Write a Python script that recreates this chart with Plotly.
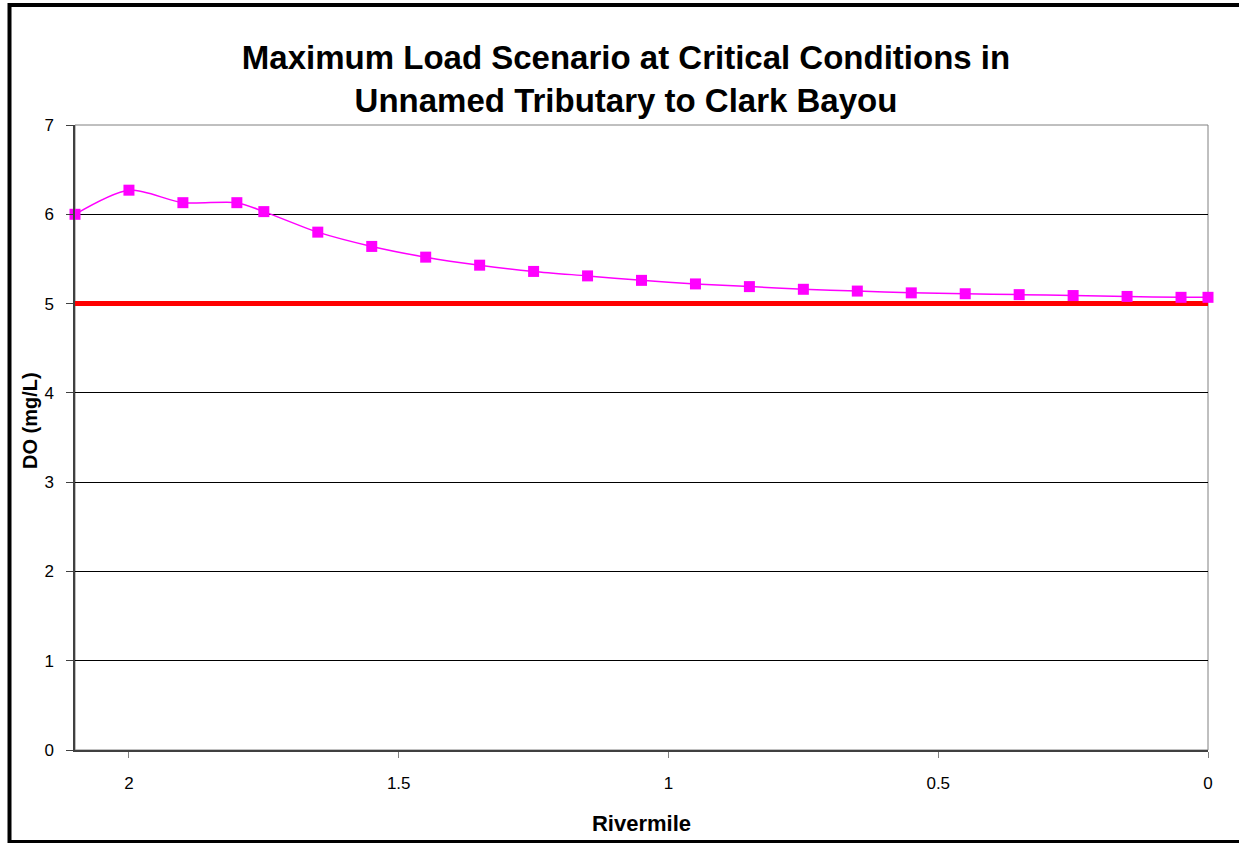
import plotly.graph_objects as go

rivermile = [2.1, 2.0, 1.9, 1.8, 1.75, 1.65, 1.55, 1.45, 1.35, 1.25, 1.15, 1.05,
             0.95, 0.85, 0.75, 0.65, 0.55, 0.45, 0.35, 0.25, 0.15, 0.05, 0.0]
do_values = [6.00, 6.27, 6.13, 6.13, 6.03, 5.80, 5.64, 5.52, 5.43, 5.36, 5.31, 5.26,
             5.22, 5.19, 5.16, 5.14, 5.12, 5.11, 5.10, 5.09, 5.08, 5.07, 5.07]
criterion_x = [2.1, 0.0]
criterion_y = [5, 5]

W, H = 1239, 843
L, R, T, B = 75, 31, 125, 93
pw, ph = W - L - R, H - T - B

fig = go.Figure()
fig.add_trace(go.Scatter(x=criterion_x, y=criterion_y, mode="lines",
                         line=dict(color="#ff0000", width=5), showlegend=False,
                         hoverinfo="skip", cliponaxis=False))
fig.add_trace(go.Scatter(x=rivermile, y=do_values, mode="lines+markers",
                         line=dict(color="#ff00ff", width=1.5, shape="spline", smoothing=0.8),
                         marker=dict(symbol="square", size=11, color="#ff00ff"),
                         showlegend=False, cliponaxis=False))

font_family = "Liberation Sans, Arial, sans-serif"

fig.update_layout(
    width=W, height=H,
    margin=dict(l=L, r=R, t=T, b=B),
    paper_bgcolor="white", plot_bgcolor="white",
    font=dict(family=font_family, color="black", size=16),
    title=dict(text="<b>Maximum Load Scenario at Critical Conditions in<br>Unnamed Tributary to Clark Bayou</b>",
               x=626 / W, xref="container", xanchor="center",
               y=1 - 69 / H, yref="container", yanchor="middle",
               font=dict(size=33, family=font_family, color="black")),
    xaxis=dict(range=[2.1, 0.0], tickvals=[2, 1.5, 1, 0.5, 0],
               ticktext=["2", "1.5", "1", "0.5", "0"],
               showgrid=False, zeroline=False,
               showline=True, linecolor="#404040", linewidth=1.5, mirror=False,
               ticks="outside", ticklen=6, tickcolor="#808080",
               ticklabelstandoff=11,
               tickfont=dict(size=17),
               title=dict(text="<b>Rivermile</b>", font=dict(size=22), standoff=23)),
    yaxis=dict(range=[0, 7], tickvals=[0, 1, 2, 3, 4, 5, 6, 7],
               showgrid=True, gridcolor="#000000", gridwidth=1, zeroline=False,
               showline=True, linecolor="#404040", linewidth=1.5,
               ticks="outside", ticklen=7, tickcolor="#404040",
               ticklabelstandoff=9,
               tickfont=dict(size=17)),
    annotations=[
        dict(text="<b>DO (mg/L)</b>", textangle=-90, showarrow=False,
             xref="paper", yref="paper", x=(30 - L) / pw, y=(H - B - 421) / ph,
             xanchor="center", yanchor="middle", font=dict(size=20)),
    ],
    shapes=[
        dict(type="rect", xref="paper", yref="paper", x0=0, x1=1, y0=0, y1=1,
             line=dict(color="#808080", width=1), layer="below"),
        dict(type="rect", xref="paper", yref="paper",
             x0=(9.5 - L) / pw, x1=(1260 - L) / pw,
             y0=-(842 - (H - B)) / ph, y1=1 + (T - 5) / ph,
             line=dict(color="black", width=4)),
    ],
)

fig.write_html("out.html", post_script="document.body.style.margin='0';",
               config={"displayModeBar": False})
